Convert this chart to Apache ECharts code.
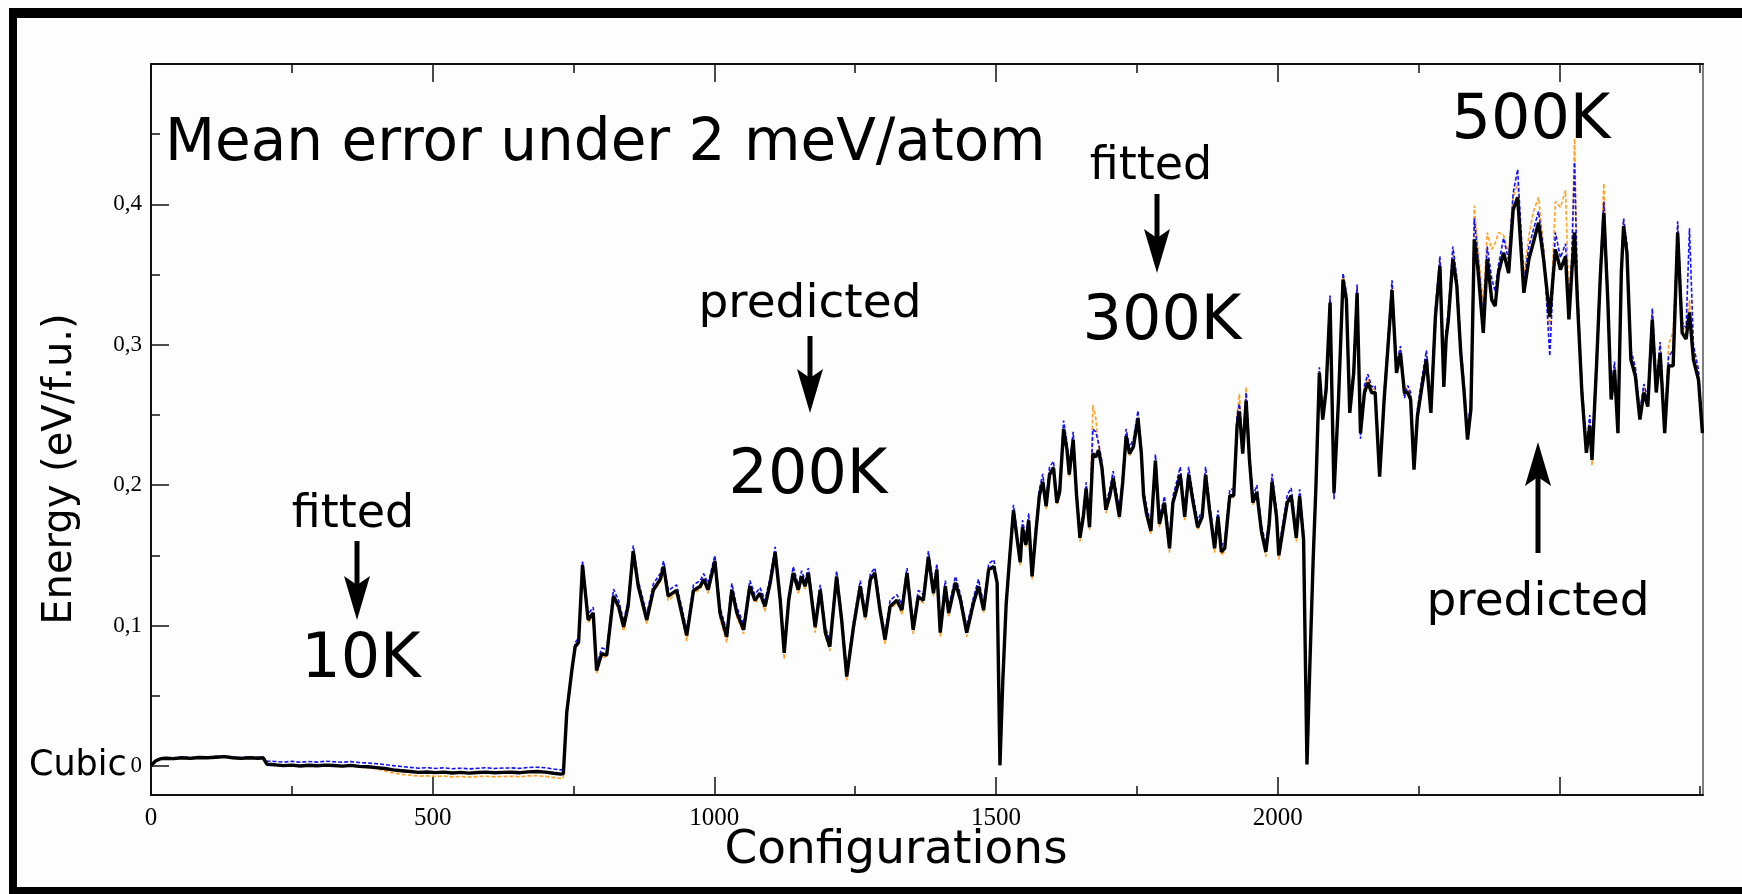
<!DOCTYPE html>
<html>
<head>
<meta charset="utf-8">
<title>Energy vs configurations</title>
<script src="https://cdn.jsdelivr.net/npm/echarts@6/dist/echarts.min.js"></script>
<style>
  html, body { margin: 0; padding: 0; background: #ffffff; }
  #chart { width: 1742px; height: 894px; }
</style>
</head>
<body>
<div id="chart"></div>
<script>
// Configuration index of each sample
const configs = [
  0,8,16,25,40,55,70,85,100,115,130,145,160,175,190,199,206,220,235,250,265,280,295,310,325,340,355,370,385,400,
  415,430,445,460,475,490,505,520,535,550,565,580,595,610,625,640,655,670,685,700,715,727,
  732,738,747,753,759,766,776,785,791,800,809,821,830,839,847,856,865,880,892,904,910,918,933,951,963,975,981,989,1001,1010,
  1022,1031,1040,1052,1063,1072,1081,1090,1099,1108,1117,1124,1132,1140,1149,1155,1161,1167,1179,1188,1197,1205,1217,1226,1235,1247,1259,1268,1277,1285,
  1294,1303,1312,1324,1333,1342,1353,1362,1371,1380,1389,1395,1401,1410,1416,1428,1437,1448,1460,1469,1478,1487,1496,1502,1507,
  1512,1518,1524,1531,1538,1543,1547,1553,1558,1564,1571,1577,1583,1589,1595,1602,1608,1613,1620,1626,1630,1637,1643,1649,1655,1660,1666,1672,1677,1682,
  1688,1695,1702,1708,1713,1719,1725,1731,1737,1744,1752,1758,1762,1767,1775,1783,1790,1799,1808,1814,1821,1827,1835,1842,1850,1858,1866,1872,1879,1888,
  1894,1900,1906,1915,1922,1928,1932,1938,1944,1950,1956,1963,1971,1979,1985,1990,1998,2002,2009,2017,2024,2033,2039,2046,2052,2057,2063,2068,
  2074,2080,2086,2093,2100,2108,2116,2122,2128,2135,2141,2147,2154,2160,2167,2173,2181,2189,2195,2203,2211,2218,2225,2231,2236,2242,2248,2256,2264,2272,
  2280,2288,2295,2299,2303,2311,2318,2325,2331,2337,2343,2349,2355,2365,2372,2380,2386,2392,2401,2410,2418,2426,2437,2446,2454,2463,2472,2483,2493,2502,
  2511,2517,2522,2527,2532,2540,2548,2554,2558,2566,2573,2579,2586,2592,2598,2604,2610,2614,2620,2627,2635,2643,2650,2657,2665,2672,2679,2687,2694,2702,
  2710,2718,2725,2731,2738,2747,2754
];

// Reference energies, meV per formula unit (solid black)
const energyRef = [
  0.3,3.5,5,5.5,5.2,5.8,5.4,6,5.8,6.2,6.6,5.8,5.4,5.8,5.5,5.8,1.2,0.8,0.2,0.6,0,0.5,0.1,0.6,0.3,-0.1,0.4,-0.3,-0.6,-1.2,
  -1.8,-2.8,-3.4,-4,-4.6,-4.3,-4.8,-4.4,-5,-4.6,-5.1,-4.7,-4.4,-4.9,-4.6,-4.5,-4.8,-4.2,-4,-4.4,-5.2,-5.8,
  -5.5,38,68,85,88,143,104,109,68,80,79,121,113.6,99,114,153,128,104,125.5,133,142,121,125,93,125,128,133,125.5,146,109,
  92,125.5,109,97,128,118,123,113.6,130,152,118,80.5,118,137.5,125.5,135,128,137.5,99,125.5,95,85,135,104,63.7,99,128,106,133,137.5,
  111,90,113.6,118,111,137.5,97,120.7,118,149,123,140,95,128,109,130.5,118,95,116,128,111,140,142,130.5,0.5,
  60,115,147,182,160,145,170,157.5,175,135,167.5,192.5,202.5,185,207.5,212.5,187.5,195,240,225,207.5,232.5,192.5,162.5,177.5,197.5,170,222.5,220,225,
  212.5,182.5,192.5,205,192.5,177.5,202.5,235,222.5,227.5,247.5,222.5,192.5,180,167.5,217.5,172.5,187.5,155,187.5,197.5,207.5,177.5,207.5,187.5,170,177.5,207.5,182.5,155,
  177.5,152.5,155,192.5,192.5,242.5,252.5,222.5,260,217.5,187.5,195,167.5,152.5,172.5,202.5,177.5,150,167.5,187.5,192.5,162.5,192,161,1,70,147,200,
  280,246.7,268,330,194.5,261,346.5,332,251.5,280,337,237,265.7,273,265.7,266,206,261,294,339,280,294,266,266,261,211,249,270,289.5,251.5,
  320,356,270,304,318,361,342,294,266,232.5,254,375,356,308.5,361,332,327.5,351.5,365.6,351,396,405,337,361,373,387,361,320,368,353.6,
  363,318,351,380,332,266,223,242,218,285,351,394,332,261,282,237,351,384.5,365.6,289.5,277.6,246.7,266,256,318,266,294,237,285,285,
  380,308.5,304,323,289.5,275,237
];

// First fitted potential, meV per formula unit (blue dashed)
const energyFitBlue = [
  0.5,3.8,5.5,6,5.8,6.3,6,6.5,6.3,6.8,7,6.4,6,6.4,6.1,6.4,3.5,3.2,2.8,3.3,2.6,3.2,2.7,3.4,3,2.6,3.1,2.4,2.1,1.6,
  1,0.2,-0.4,-1,-1.6,-1.2,-1.8,-1.3,-2,-1.6,-2.1,-1.7,-1.3,-1.8,-1.5,-1.4,-1.7,-1.1,-0.9,-1.3,-2.2,-2.8,
  -2.5,40,70,88,91,146,108,113,71,84,83,126,118,103,118,157,132,108,130,137,146,125,129,97,129,132,137,130,150,113,
  96,130,113,101,132,122,127,118,134,156,122,84,122,142,129,139,132,141,103,129,99,89,139,108,67,103,132,110,137,141,
  115,94,118,122,115,141,101,125,122,153,127,144,99,132,113,135,122,99,120,133,115,144,147,134,1,
  61,118,151,186,164,149,175,162,180,139,172,197,208,189,213,217,192,200,246,230,212,238,197,167,182,202,175,240,238,230,
  217,187,197,210,197,182,207,240,227,233,253,227,197,185,172,222,177,192,160,192,203,213,182,213,192,175,182,213,187,160,
  182,157,160,197,197,250,258,228,266,222,192,200,172,157,177,208,182,155,172,193,198,167,197,166,1.5,71,150,204,
  284,250,273,335,190,266,351,337,256,285,343,233,271,279,270,271,212,266,300,346,286,299,262,271,266,216,254,276,296,257,
  327,363,276,310,324,370,348,300,272,238,262,390,366,318,370,347,338,357,376,360,408,425,345,370,382,395,368,292,380,362,
  372,325,362,430,340,272,228,250,224,292,358,402,338,266,288,243,357,390,372,296,284,252,272,262,326,272,302,243,292,296,
  388,316,312,383,300,282,240
];

// Second fitted potential, meV per formula unit (orange dashed)
const energyFitOrange = [
  0.1,3.2,4.7,5.2,4.9,5.5,5.1,5.7,5.5,5.9,6.3,5.5,5.1,5.5,5.2,5.5,0.9,0.5,-0.1,0.3,-0.3,0.2,-0.2,0.3,0,-0.5,0,-0.8,-1.2,-2,
  -3.5,-5,-6,-6.6,-7.3,-7,-7.5,-7.2,-7.8,-7.5,-8,-7.6,-7.3,-7.8,-7.5,-7.4,-7.7,-7.1,-7,-7.4,-8.2,-8.8,
  -8.5,37,67,84,87,142,102,107,66,78,77,120,111,96,113,151,127,101,124,131,140,118,123,89,123,126,131,123,144,105,
  88,124,106,94,127,116,121,110,129,150,114,76,116,136,123,133,126,136,95,124,92,82,133,101,61,96,127,104,132,136,
  108,87,112,116,108,136,94,119,116,148,121,139,92,127,106,129,116,92,114,127,109,139,141,129,0,
  59,113,146,181,158,143,168,156,174,133,166,191,201,183,206,211,186,194,240,224,206,231,190,160,176,196,168,257,248,228,
  211,180,191,204,191,176,201,234,221,227,249,221,190,178,165,216,170,186,152,186,196,206,175,206,186,168,176,207,181,152,
  176,150,153,192,191,250,265,225,270,216,186,194,165,149,170,201,176,147,166,186,191,160,191,159,0.5,69,146,199,
  282,249,271,333,197,264,349,334,254,283,340,240,269,276,268,269,209,264,298,342,284,297,269,269,264,214,252,274,293,255,
  324,360,274,308,322,366,346,298,269,236,258,399,370,330,380,368,372,380,378,365,405,415,350,378,395,405,370,310,402,398,
  410,330,360,447,345,270,226,246,214,290,356,415,336,264,286,240,355,388,370,293,281,250,270,259,323,270,300,241,300,310,
  384,314,308,332,296,280,238
];

// Axis ticks and labels
const xMajorTicks = [0, 500, 1000, 1500, 2000, 2500];
const xMinorTicks = [250, 750, 1250, 1750, 2250, 2750];
const xTickLabels = [0, 500, 1000, 1500, 2000];
const yMajorTicks = [0, 0.1, 0.2, 0.3, 0.4];
const yMinorTicks = [0.05, 0.15, 0.25, 0.35, 0.45];
const yTickLabels = [0, 0.1, 0.2, 0.3, 0.4];

const X_MIN = 0, X_MAX = 2755;
const Y_MIN = -0.0207, Y_MAX = 0.5;

const toPairs = (arr) => configs.map((c, i) => [c, arr[i] / 1000]);

const SANS = 'DejaVu Sans';
const SERIF = 'Liberation Serif';
const INK = '#000000';

function xAxisDef(position, ticks, len, withLine, labels) {
  return {
    type: 'value', min: X_MIN, max: X_MAX, position: position,
    axisLine: { show: withLine, onZero: false, lineStyle: { color: '#111', width: 2 } },
    axisTick: { show: true, inside: true, length: len, customValues: ticks, lineStyle: { color: '#111', width: 1.5 } },
    axisLabel: labels ? {
      show: true, customValues: labels, margin: 11,
      fontFamily: SERIF, fontSize: 25, color: INK,
      formatter: (v) => String(Math.round(v))
    } : { show: false },
    splitLine: { show: false }
  };
}

function yAxisDef(ticks, len, withLine, labels) {
  return {
    type: 'value', min: Y_MIN, max: Y_MAX, position: 'left',
    axisLine: { show: withLine, onZero: false, lineStyle: { color: '#111', width: 2 } },
    axisTick: { show: true, inside: true, length: len, customValues: ticks, lineStyle: { color: '#111', width: 1.5 } },
    axisLabel: labels ? {
      show: true, customValues: labels, margin: 9,
      fontFamily: SERIF, fontSize: 23, color: INK,
      formatter: (v) => (Math.abs(v) < 1e-9 ? '0' : (+v.toFixed(2)).toString().replace('.', ','))
    } : { show: false },
    splitLine: { show: false }
  };
}

// Arrow made of a shaft and a notched head; tipY may be above or below baseY
function arrow(x, baseY, tipY) {
  const dir = tipY > baseY ? 1 : -1;
  const headLen = 44, half = 13, notch = 9;
  const backY = tipY - dir * headLen;
  const notchY = backY + dir * notch;
  return [
    { type: 'line', shape: { x1: x, y1: baseY, x2: x, y2: notchY }, style: { stroke: INK, lineWidth: 5 } },
    { type: 'polygon', shape: { points: [[x, tipY], [x + half, backY], [x, notchY], [x - half, backY]] }, style: { fill: INK } }
  ];
}

function label(text, x, y, size, align) {
  return {
    type: 'text', x: x, y: y,
    style: { text: text, font: size + 'px "' + SANS + '"', fill: INK, align: align || 'center', verticalAlign: 'middle' }
  };
}

const graphics = [
  // outer frame
  { type: 'rect', shape: { x: 9, y: 8, width: 1733, height: 10 }, style: { fill: INK } },
  { type: 'rect', shape: { x: 9, y: 8, width: 8, height: 886 }, style: { fill: INK } },
  { type: 'rect', shape: { x: 9, y: 887, width: 1733, height: 7 }, style: { fill: INK } },
  // headline and annotations
  label('Mean error under 2 meV/atom', 165, 145, 58, 'left'),
  label('fitted', 353, 515, 46),
  ...arrow(357, 541, 620),
  label('10K', 361, 661, 62),
  label('predicted', 810, 305, 47),
  ...arrow(810, 336, 413),
  label('200K', 808, 477, 62),
  label('fitted', 1151, 167, 46),
  ...arrow(1157, 194, 273),
  label('300K', 1162, 323, 62),
  label('500K', 1531, 122, 62),
  ...arrow(1538, 553, 442),
  label('predicted', 1538, 603, 47),
  label('Cubic', 29, 766, 35, 'left'),
  // axis titles
  label('Configurations', 896, 851, 47),
  {
    type: 'text', x: 61, y: 469, rotation: Math.PI / 2,
    style: { text: 'Energy (eV/f.u.)', font: '40px "' + SANS + '"', fill: INK, align: 'center', verticalAlign: 'middle' }
  }
];

const chart = echarts.init(document.getElementById('chart'), null, { renderer: 'canvas' });
chart.setOption({
  animation: false,
  backgroundColor: '#fdfdfd',
  grid: { left: 151, top: 64, right: 39, bottom: 99, show: true, borderColor: '#555', borderWidth: 1.5, backgroundColor: 'transparent' },
  xAxis: [
    xAxisDef('bottom', xMajorTicks, 18, true, xTickLabels),
    xAxisDef('bottom', xMinorTicks, 9, false, null),
    xAxisDef('top', xMajorTicks, 18, true, null),
    xAxisDef('top', xMinorTicks, 9, false, null)
  ],
  yAxis: [
    yAxisDef(yMajorTicks, 18, true, yTickLabels),
    yAxisDef(yMinorTicks, 9, false, null)
  ],
  series: [
    {
      name: 'fit B', type: 'line', xAxisIndex: 0, yAxisIndex: 0, data: toPairs(energyFitOrange),
      showSymbol: false, symbol: 'none', lineStyle: { color: '#ffa020', width: 1.6, type: [4, 2] }, z: 2
    },
    {
      name: 'fit A', type: 'line', xAxisIndex: 0, yAxisIndex: 0, data: toPairs(energyFitBlue),
      showSymbol: false, symbol: 'none', lineStyle: { color: '#1010ff', width: 1.6, type: [4, 2] }, z: 3
    },
    {
      name: 'reference', type: 'line', xAxisIndex: 0, yAxisIndex: 0, data: toPairs(energyRef),
      showSymbol: false, symbol: 'none', lineStyle: { color: '#000000', width: 3.4 }, z: 4
    }
  ],
  graphic: graphics
});
</script>
</body>
</html>
